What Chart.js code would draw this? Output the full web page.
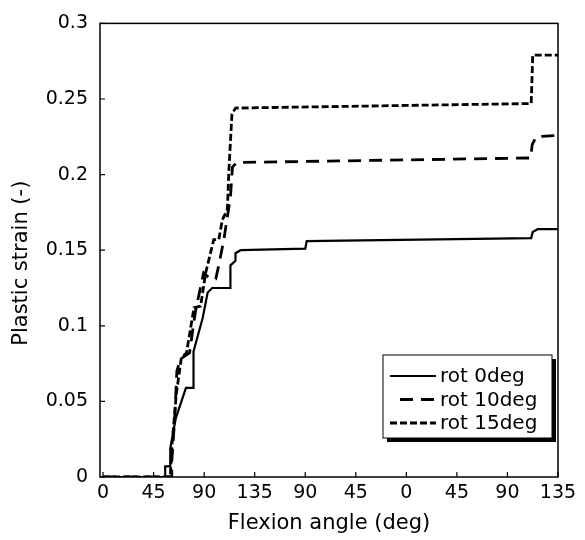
<!DOCTYPE html>
<html>
<head>
<meta charset="utf-8">
<script src="https://cdn.jsdelivr.net/npm/chart.js@4.4.0/dist/chart.umd.min.js"></script>
<style>
  html, body { margin: 0; padding: 0; background: #fff; }
</style>
</head>
<body>
<canvas id="strainChart" width="585" height="540"></canvas>
<script>
// posição ao longo do ciclo de flexão (1 unidade = 45 graus)
const xTicks = [0, 1, 2, 3, 4, 5, 6, 7, 8, 9];
const xTickLabels = ['0', '45', '90', '135', '90', '45', '0', '45', '90', '135'];
const yTicks = [0, 0.05, 0.1, 0.15, 0.2, 0.25, 0.3];

const seriesLabels = ['rot 0deg', 'rot 10deg', 'rot 15deg'];

// rot 0deg (linha cheia)
const rot0X = [0, 1.23, 1.23, 1.33, 1.33, 1.44, 1.64, 1.79, 1.79, 1.97, 2.07, 2.16, 2.52, 2.52, 2.62, 2.62, 2.72, 4.0, 4.03, 8.47, 8.50, 8.60, 9.0];
const rot0Y = [0, 0, 0.007, 0.007, 0.019, 0.039, 0.059, 0.059, 0.083, 0.105, 0.122, 0.125, 0.125, 0.140, 0.143, 0.148, 0.150, 0.151, 0.156, 0.158, 0.162, 0.164, 0.164];

// rot 10deg (tracejado longo)
const rot10X = [0, 1.36, 1.36, 1.42, 1.46, 1.53, 1.71, 1.83, 1.99, 2.12, 2.23, 2.29, 2.39, 2.45, 2.52, 2.56, 2.65, 8.46, 8.49, 8.57, 9.0];
const rot10Y = [0, 0, 0.01, 0.04, 0.07, 0.078, 0.082, 0.11, 0.135, 0.131, 0.131, 0.14, 0.157, 0.17, 0.185, 0.205, 0.208, 0.211, 0.220, 0.225, 0.226];

// rot 15deg (tracejado curto)
const rot15X = [0, 1.33, 1.36, 1.45, 1.55, 1.65, 1.80, 1.93, 2.03, 2.19, 2.29, 2.36, 2.46, 2.49, 2.55, 2.62, 8.47, 8.50, 9.0];
const rot15Y = [0, 0, 0.02, 0.055, 0.079, 0.082, 0.112, 0.113, 0.135, 0.157, 0.157, 0.170, 0.177, 0.203, 0.240, 0.244, 0.247, 0.279, 0.279];

const toPoints = (xs, ys) => xs.map((x, i) => ({ x: x, y: ys[i] }));

const FONT = 'DejaVu Sans';

// moldura, ticks internos, título do eixo y e legenda com sombra
const framePlugin = {
  id: 'framePlugin',
  afterDraw(chart) {
    const ctx = chart.ctx;
    const a = chart.chartArea;
    const xs = chart.scales.x, ys = chart.scales.y;
    ctx.save();
    ctx.strokeStyle = '#000';
    ctx.lineWidth = 1.5;
    ctx.strokeRect(a.left, a.top, a.right - a.left, a.bottom - a.top);

    ctx.lineWidth = 1.2;
    ctx.beginPath();
    xTicks.forEach(v => {
      const px = xs.getPixelForValue(v);
      ctx.moveTo(px, a.bottom);
      ctx.lineTo(px, a.bottom - 5);
    });
    yTicks.forEach(v => {
      const py = ys.getPixelForValue(v);
      ctx.moveTo(a.left, py);
      ctx.lineTo(a.left + 5, py);
    });
    ctx.stroke();

    // título do eixo y, um pouco abaixo do centro como no original
    ctx.save();
    ctx.translate(22, (a.top + a.bottom) / 2 + 13);
    ctx.rotate(-Math.PI / 2);
    ctx.fillStyle = '#000';
    ctx.font = '21px "' + FONT + '"';
    ctx.textAlign = 'center';
    ctx.textBaseline = 'middle';
    ctx.fillText('Plastic strain (-)', 0, 0);
    ctx.restore();

    // legenda
    const w = 169, h = 83;
    const lx = a.right - 6 - w, ly = a.bottom - 39 - h;
    ctx.fillStyle = '#000';
    ctx.fillRect(lx + 4, ly + 4, w, h);
    ctx.fillStyle = '#fff';
    ctx.fillRect(lx, ly, w, h);
    ctx.lineWidth = 1;
    ctx.strokeRect(lx, ly, w, h);

    const rowY = [ly + 21, ly + 44.5, ly + 68];
    const sampleStart = [lx + 7, lx + 17, lx + 7];
    chart.data.datasets.forEach((ds, i) => {
      ctx.beginPath();
      ctx.setLineDash(ds.borderDash || []);
      ctx.lineWidth = ds.borderWidth;
      ctx.strokeStyle = ds.borderColor;
      ctx.moveTo(sampleStart[i], rowY[i]);
      ctx.lineTo(lx + 53, rowY[i]);
      ctx.stroke();
      ctx.setLineDash([]);
      ctx.fillStyle = '#000';
      ctx.font = '20px "' + FONT + '"';
      ctx.textBaseline = 'middle';
      ctx.textAlign = 'left';
      ctx.fillText(ds.label, lx + 57, rowY[i] + 1);
    });
    ctx.restore();
  }
};

new Chart(document.getElementById('strainChart'), {
  type: 'line',
  data: {
    datasets: [
      { label: seriesLabels[0], data: toPoints(rot0X, rot0Y), borderColor: '#000', borderWidth: 2.2, borderDash: [] },
      { label: seriesLabels[1], data: toPoints(rot10X, rot10Y), borderColor: '#000', borderWidth: 2.8, borderDash: [13, 8] },
      { label: seriesLabels[2], data: toPoints(rot15X, rot15Y), borderColor: '#000', borderWidth: 2.8, borderDash: [7, 3] }
    ]
  },
  options: {
    responsive: false,
    animation: false,
    parsing: false,
    elements: { point: { radius: 0 }, line: { tension: 0, fill: false } },
    layout: { padding: { left: 0, right: 27, top: 17, bottom: 0 } },
    plugins: { legend: { display: false }, tooltip: { enabled: false } },
    scales: {
      x: {
        type: 'linear',
        min: -0.06,
        max: 9,
        afterBuildTicks: s => { s.ticks = xTicks.map(v => ({ value: v })); },
        afterFit: s => { s.height = 63; },
        grid: { display: false, drawTicks: false },
        border: { display: false },
        ticks: {
          color: '#000',
          padding: 5,
          maxRotation: 0,
          font: { family: FONT, size: 19 },
          callback: v => xTickLabels[xTicks.indexOf(v)]
        },
        title: {
          display: true,
          text: 'Flexion angle (deg)',
          color: '#000',
          font: { family: FONT, size: 21 },
          padding: { top: 0, bottom: 4 }
        }
      },
      y: {
        min: 0,
        max: 0.3,
        afterBuildTicks: s => { s.ticks = yTicks.map(v => ({ value: v })); },
        afterFit: s => { s.width = 100; },
        grid: { display: false, drawTicks: false },
        border: { display: false },
        ticks: {
          color: '#000',
          padding: 12,
          font: { family: FONT, size: 19 },
          callback: v => String(Number(v.toFixed(2)))
        }
      }
    }
  },
  plugins: [framePlugin]
});
</script>
</body>
</html>
